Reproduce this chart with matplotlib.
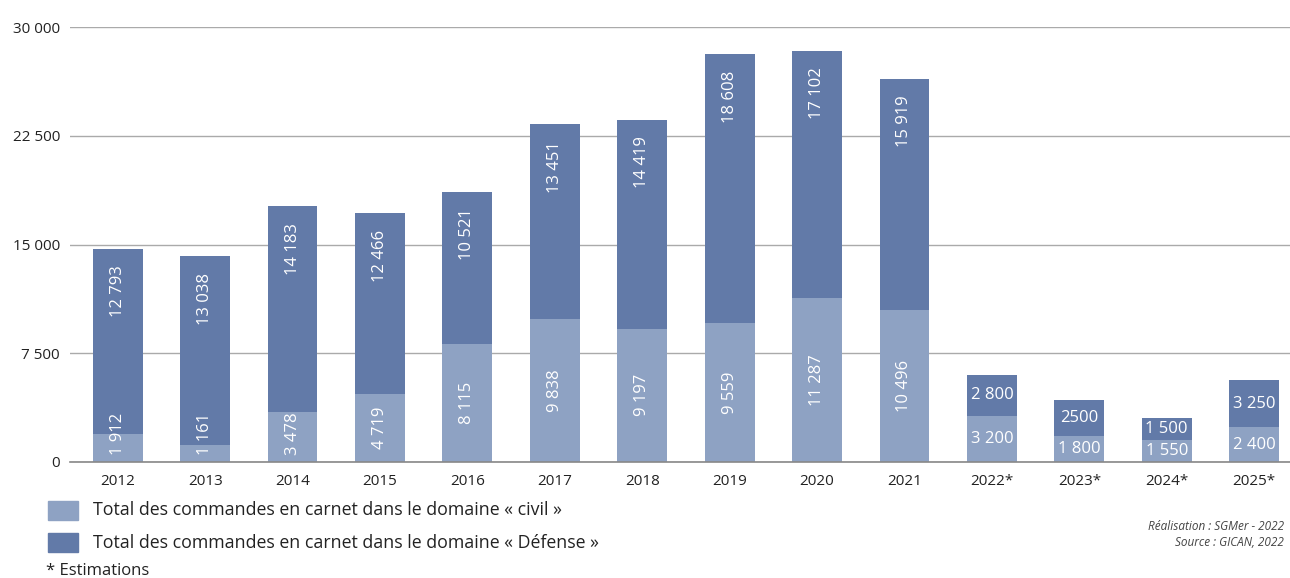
import matplotlib.pyplot as plt

# data
years = ["2012", "2013", "2014", "2015", "2016", "2017", "2018", "2019",
         "2020", "2021", "2022*", "2023*", "2024*", "2025*"]
civil = [1912, 1161, 3478, 4719, 8115, 9838, 9197, 9559, 11287, 10496,
         3200, 1800, 1550, 2400]
defense = [12793, 13038, 14183, 12466, 10521, 13451, 14419, 18608, 17102, 15919,
           2800, 2500, 1500, 3250]
civil_txt = ["1 912", "1 161", "3 478", "4 719", "8 115", "9 838", "9 197", "9 559",
             "11 287", "10 496", "3 200", "1 800", "1 550", "2 400"]
defense_txt = ["12 793", "13 038", "14 183", "12 466", "10 521", "13 451", "14 419",
               "18 608", "17 102", "15 919", "2 800", "2500", "1 500", "3 250"]
yticks = [0, 7500, 15000, 22500, 30000]
ytick_txt = ["0", "7 500", "15 000", "22 500", "30 000"]

c_civil = "#8ea2c3"
c_def = "#627aa8"
font = "Open Sans"

fig = plt.figure(figsize=(12.9, 5.78), dpi=100)
ax = fig.add_axes([0.054, 0.2007, 0.946, 0.7523])

x = list(range(len(years)))
ax.bar(x, civil, width=0.57, color=c_civil, zorder=3)
ax.bar(x, defense, width=0.57, bottom=civil, color=c_def, zorder=3)

ax.set_xlim(-0.55, 13.41)
ax.set_ylim(0, 30000)
ax.set_yticks(yticks)
ax.set_yticklabels(ytick_txt, fontsize=11, family=font, color="#222222")
ax.set_xticks(x)
ax.set_xticklabels(years, fontsize=11, family=font, color="#222222")
ax.tick_params(axis="both", length=0)
ax.tick_params(axis="y", pad=7)
ax.tick_params(axis="x", pad=9)
ax.grid(axis="y", color="#aaaaaa", linewidth=1, zorder=0)
for s in ["top", "right", "left"]:
    ax.spines[s].set_visible(False)
ax.spines["bottom"].set_color("#888888")
ax.spines["bottom"].set_linewidth(1.2)
ax.spines["bottom"].set_zorder(4)

# value labels
for i in x:
    if i < 10:
        # rotated labels
        mid = max(civil[i] / 2, 1950)
        ax.text(i, mid, civil_txt[i], rotation=90, ha="center", va="center",
                color="white", fontsize=12, family=font, zorder=5)
        ax.annotate(defense_txt[i], (i, civil[i] + defense[i]), xytext=(0, -12),
                    textcoords="offset points", rotation=90, ha="center", va="top",
                    color="white", fontsize=12, family=font, zorder=5)
    else:
        ax.text(i, civil[i] / 2, civil_txt[i], ha="center", va="center",
                color="white", fontsize=12, family=font, zorder=5)
        ax.text(i, civil[i] + defense[i] / 2, defense_txt[i], ha="center", va="center",
                color="white", fontsize=12, family=font, zorder=5)

# legend
fig.patches.append(plt.Rectangle((48 / 1290, 1 - 520 / 578), 30 / 1290, 19 / 578,
                                 transform=fig.transFigure, color=c_civil))
fig.patches.append(plt.Rectangle((48 / 1290, 1 - 552 / 578), 30 / 1290, 19 / 578,
                                 transform=fig.transFigure, color=c_def))
fig.text(93 / 1290, 1 - 510 / 578, "Total des commandes en carnet dans le domaine « civil »",
         fontsize=12.8, family=font, color="#222222", va="center")
fig.text(93 / 1290, 1 - 543 / 578, "Total des commandes en carnet dans le domaine « Défense »",
         fontsize=12.8, family=font, color="#222222", va="center")
fig.text(46 / 1290, 1 - 571 / 578, "* Estimations",
         fontsize=12, family=font, color="#222222", va="center")

# credits
fig.text(1284 / 1290, 1 - 527 / 578, "Réalisation : SGMer - 2022",
         fontsize=8.5, family=font, style="italic", color="#444444", ha="right", va="center")
fig.text(1284 / 1290, 1 - 542 / 578, "Source : GICAN, 2022",
         fontsize=8.5, family=font, style="italic", color="#444444", ha="right", va="center")

fig.savefig("out.png", dpi=100)
